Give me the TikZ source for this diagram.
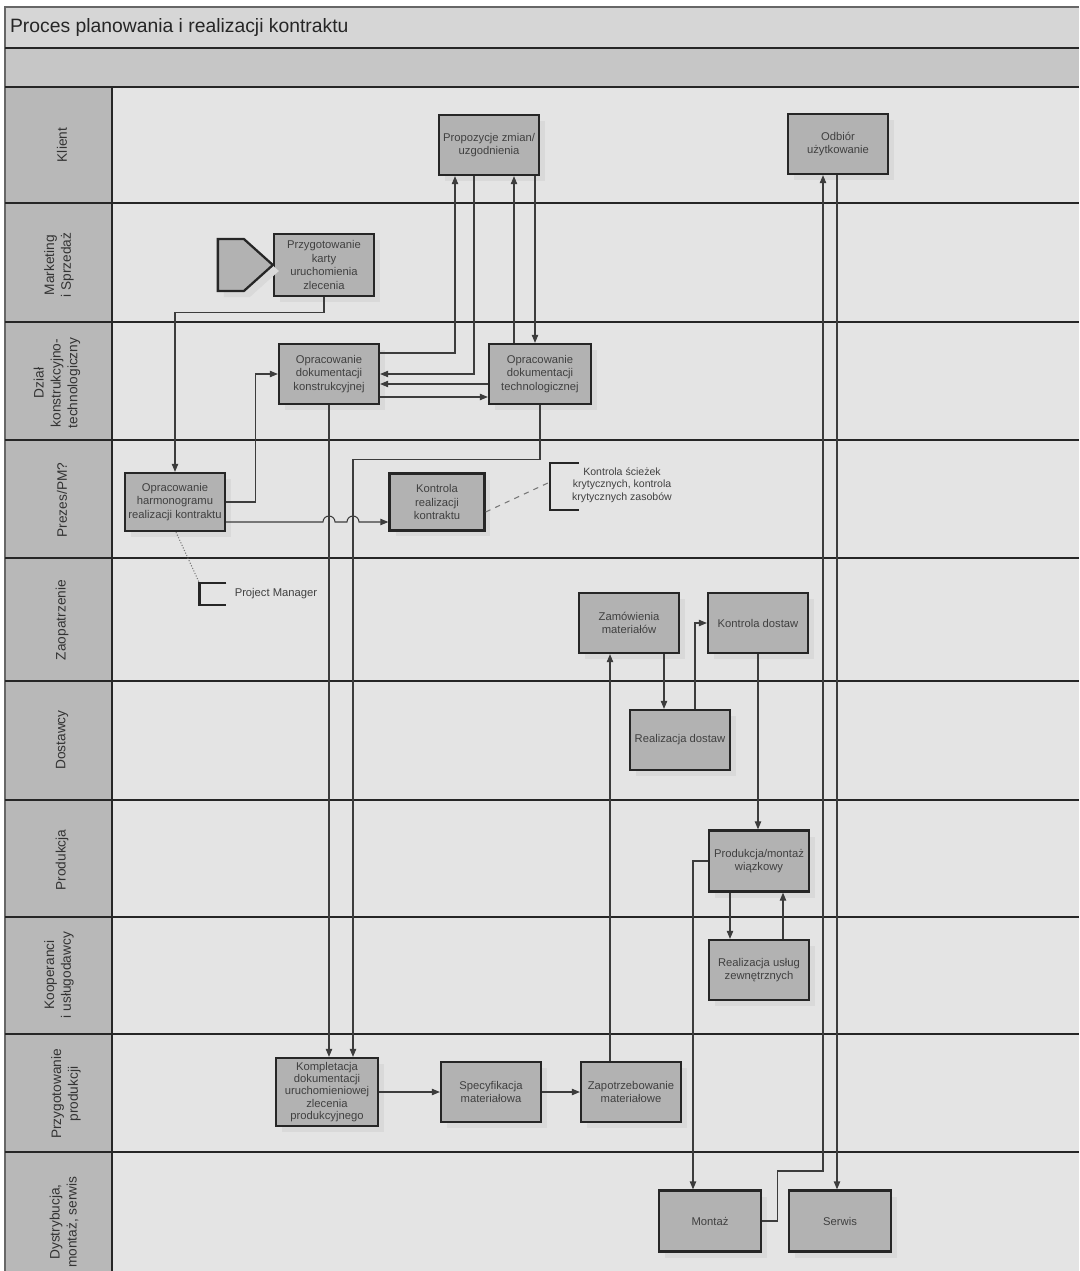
\documentclass[tikz,border=0pt]{standalone}
\usepackage{fontspec}
\setmainfont{Liberation Sans}
\usetikzlibrary{arrows.meta,calc,shadows}
\definecolor{pagebg}{HTML}{E4E4E4}
\definecolor{hdrbg}{HTML}{B8B8B8}
\definecolor{titlebg}{HTML}{D6D6D6}
\definecolor{bandbg}{HTML}{C6C6C6}
\definecolor{boxbg}{HTML}{B2B2B2}
\definecolor{boxln}{HTML}{262626}
\definecolor{wire}{HTML}{3C3C3C}
\definecolor{ink}{HTML}{404040}

\begin{document}
\begin{tikzpicture}[x=0.02cm,y=-0.02cm,font=\fontsize{6.4}{7.8}\selectfont,
      >={Triangle[length=4.5pt,width=3.6pt]},
      blk/.style={draw=boxln,line width=1.3pt,fill=boxbg,text=ink,align=center,
        minimum width=2cm,minimum height=1.2cm,inner sep=1pt,
        drop shadow={shadow xshift=0.12cm,shadow yshift=-0.12cm,fill=black!15,opacity=1}},
      lbl/.style={rotate=90,align=center,text=black!80,font=\fontsize{7.8}{9.6}\selectfont},
      wr/.style={draw=wire,line width=0.6pt},
      ann/.style={inner sep=0pt,align=center,text=ink,font=\fontsize{6}{7}\selectfont},
      brk/.style={draw=boxln,line width=1.5pt}]
    \useasboundingbox (0,0) rectangle (1079,1271);
    % --- frame ---
    \fill[white] (0,0) rectangle (1079,1271);
    \fill[pagebg] (5,7) rectangle (1079,1271);
    \fill[titlebg] (5,7) rectangle (1079,48);
    \fill[bandbg] (5,48) rectangle (1079,87);
    \fill[hdrbg] (5,87) rectangle (112,1271);
    \draw[boxln!70,line width=0.8pt] (1079,7) -- (5,7) -- (5,1271);
    \draw[boxln,line width=1.2pt] (5,48) -- (1079,48);
    \node[anchor=west,inner sep=1pt,text=black!85,font=\fontsize{11}{13}\selectfont] (title) at (8,28)
      {Proces planowania i realizacji kontraktu};
    \foreach \y in {87,203,322,440,558,681,800,917,1034,1152}
      \draw[boxln,line width=1.2pt] (5,\y) -- (1079,\y);
    \draw[boxln,line width=1.2pt] (112,87) -- (112,1271);
    % lane names
    \node[lbl] (lkl) at (62,145) {Klient};
    \node[lbl] (lms) at (59,265) {Marketing\\i Sprzedaż};
    \node[lbl] (ldz) at (57,383) {Dział\\konstrukcyjno-\\technologiczny};
    \node[lbl] (lpm) at (62,500) {Prezes/PM?};
    \node[lbl] (lzp) at (62,620) {Zaopatrzenie};
    \node[lbl] (lds) at (62,740) {Dostawcy};
    \node[lbl] (lpr) at (62,860) {Produkcja};
    \node[lbl] (lko) at (59,975) {Kooperanci\\i usługodawcy};
    \node[lbl] (lpp) at (66,1094) {Przygotowanie\\produkcji};
    \node[lbl] (ldy) at (64,1222) {Dystrybucja,\\montaż, serwis};
    % --- Klient ---
    \node[blk] (prop) at (489,145) {Propozycje zmian/\\uzgodnienia};
    \node[blk] (odb) at (838,144) {Odbiór\\użytkowanie};
    % --- Marketing i Sprzedaż ---
    \node[blk,minimum height=1.24cm] (kart) at (324,265) {Przygotowanie\\karty\\uruchomienia\\zlecenia};
    \draw[draw=boxln,line width=1.3pt,fill=boxbg,line join=miter,
      drop shadow={shadow xshift=0.12cm,shadow yshift=-0.12cm,fill=black!15,opacity=1}]
      (kart.west) -- ++(-29,-26) -- ++(-26,0) -- ++(0,52) -- ++(26,0) -- cycle;
    % --- Dzial konstrukcyjno-technologiczny ---
    \node[blk] (konstr) at (329,374) {Opracowanie\\dokumentacji\\konstrukcyjnej};
    \node[blk,minimum width=2.04cm] (techn) at (540,374) {Opracowanie\\dokumentacji\\technologicznej};
    % --- Prezes/PM ---
    \node[blk,minimum height=1.16cm] (harm) at (175,502) {Opracowanie\\harmonogramu\\realizacji kontraktu};
    \node[blk,minimum width=1.9cm,minimum height=1.14cm] (kontr) at (437,502) {Kontrola\\realizacji\\kontraktu};
    \node[ann] (ann1) at (622,485) {Kontrola ścieżek\\krytycznych, kontrola\\krytycznych zasobów};
    \draw[brk] ($(ann1.west)+(7,-22)$) -- ++(-29,0) -- ++(0,47) -- ++(29,0);
    \node[ann,font=\fontsize{6.4}{7.8}\selectfont] (ann2) at (276,594) {Project Manager};
    \draw[brk] ($(ann2.west)+(-8,-11)$) -- ++(-27,0) -- ++(0,22) -- ++(27,0);
    % --- Zaopatrzenie / Dostawcy ---
    \node[blk] (zam) at (629,623) {Zamówienia\\materiałów};
    \node[blk] (kdost) at (758,623) {Kontrola dostaw};
    \node[blk] (rdost) at (680,740) {Realizacja dostaw};
    % --- Produkcja / Kooperanci ---
    \node[blk,minimum height=1.22cm] (prod) at (759,861) {Produkcja/montaż\\wiązkowy};
    \node[blk] (uslug) at (759,970) {Realizacja usług\\zewnętrznych};
    % --- Przygotowanie produkcji ---
    \node[blk,minimum width=2.04cm,minimum height=1.36cm,font=\fontsize{6.4}{7}\selectfont] (kompl) at (327,1092)
      {Kompletacja\\dokumentacji\\uruchomieniowej\\zlecenia\\produkcyjnego};
    \node[blk] (spec) at (491,1092) {Specyfikacja\\materiałowa};
    \node[blk] (zapo) at (631,1092) {Zapotrzebowanie\\materiałowe};
    % --- Dystrybucja, montaz, serwis ---
    \node[blk,minimum width=2.04cm,minimum height=1.22cm] (mont) at (710,1221) {Montaż};
    \node[blk,minimum width=2.04cm,minimum height=1.22cm] (serw) at (840,1221) {Serwis};
    % --- connectors ---
    \draw[wr,->] (kart.south) -- ++(0,15) -| (harm.north);
    \draw[wr,->] (harm.east) -- ++(29,0) |- (konstr.west);
    \draw[wr,->] ($(harm.east)+(0,20)$) -- ($(harm.east -| konstr.south)+(-6,20)$)
      arc[start angle=180,end angle=360,radius=6] -- ($(harm.east -| kompl.north)+(20,20)$)
      arc[start angle=180,end angle=360,radius=6] -- ($(kontr.west)+(0,20)$);
    \draw[wr,dashed,draw=wire!70] ($(kontr.east)+(0,10)$) -- ($(ann1.west)+(-24,-2)$);
    \draw[wr,densely dotted,draw=wire!70] ($(harm.south)+(1,0)$) -- ($(ann2.west)+(-35,-11)$);
    \draw[wr,->] ($(konstr.east)+(0,-21)$) -| ($(prop.south)+(-34,0)$);
    \draw[wr,->] ($(prop.south)+(-15,0)$) |- (konstr.east);
    \draw[wr,->] ($(techn.west)+(0,10)$) -- ($(konstr.east)+(0,10)$);
    \draw[wr,->] ($(konstr.east)+(0,23)$) -- ($(techn.west)+(0,23)$);
    \draw[wr,->] ($(techn.north)+(-26,0)$) -- ($(prop.south)+(25,0)$);
    \draw[wr,->] ($(prop.south)+(46,0)$) -- ($(techn.north)+(-5,0)$);
    \draw[wr,->] (konstr.south) -- (konstr.south |- kompl.north);
    \draw[wr,->] (techn.south) -- ++(0,54) -| ($(kompl.north)+(26,0)$);
    \draw[wr,->] (kompl.east) -- (spec.west);
    \draw[wr,->] (spec.east) -- (zapo.west);
    \draw[wr,->] ($(zapo.north)+(-21,0)$) -- ($(zam.south)+(-19,0)$);
    \draw[wr,->] ($(zam.south)+(35,0)$) -- ($(rdost.north)+(-16,0)$);
    \draw[wr,->] ($(rdost.north)+(15,0)$) |- (kdost.west);
    \draw[wr,->] (kdost.south) -- (kdost.south |- prod.north);
    \draw[wr,->] ($(prod.south)+(-29,0)$) -- ($(uslug.north)+(-29,0)$);
    \draw[wr,->] ($(uslug.north)+(24,0)$) -- ($(prod.south)+(24,0)$);
    \draw[wr,->] (prod.west) -| ($(mont.north)+(-17,0)$);
    \draw[wr,->] (mont.east) -- ++(15,0) -- ++(0,-50) -| ($(odb.south)+(-15,0)$);
    \draw[wr,->] ($(odb.south)+(-1,0)$) -- ($(serw.north)+(-3,0)$);
  \end{tikzpicture}
\end{document}
